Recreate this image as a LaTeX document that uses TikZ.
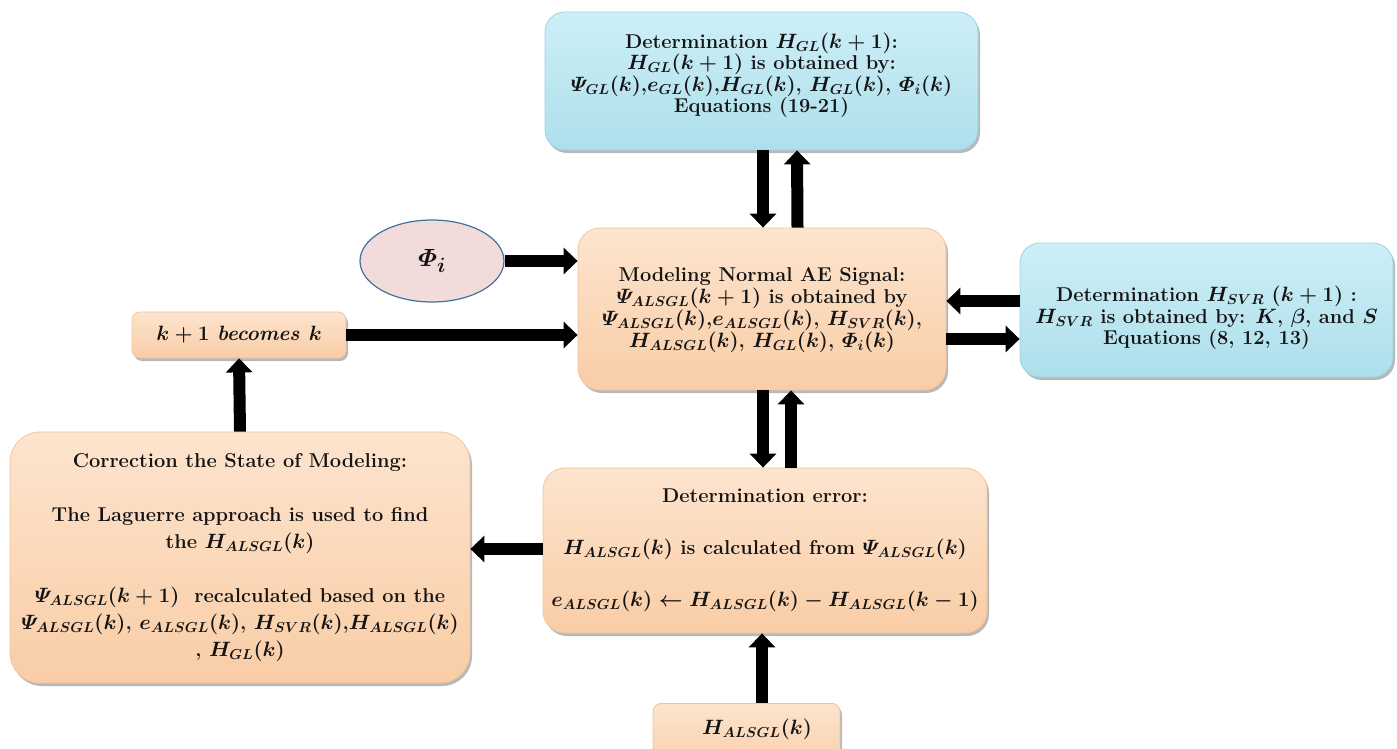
\documentclass[tikz,border=0pt]{standalone}
\usepackage{amsmath}
\usetikzlibrary{arrows.meta,shadows,shapes.geometric}

\definecolor{peachtop}{HTML}{FDE4CE}
\definecolor{peachbot}{HTML}{F9CDA6}
\definecolor{peachline}{HTML}{F2C49C}
\definecolor{skytop}{HTML}{CDEFF7}
\definecolor{skybot}{HTML}{ADDFEB}
\definecolor{skyline}{HTML}{9ED3E2}
\definecolor{ellfill}{HTML}{F2DCDB}
\definecolor{ellline}{HTML}{41719C}
\definecolor{ink}{HTML}{141414}

\tikzset{
  boxbase/.style={rounded corners=#1, draw, line width=0.8pt,
    inner sep=0pt,
    drop shadow={shadow xshift=2pt, shadow yshift=-3pt, opacity=0.28, fill=black}},
  peachbox/.style={boxbase=#1, draw=peachline, top color=peachtop, bottom color=peachbot},
  skybox/.style={boxbase=#1, draw=skyline, top color=skytop, bottom color=skybot},
  txt/.style={align=center, inner sep=0pt, text=ink,
    font=\fontsize{20}{#1}\selectfont\bfseries\boldmath},
  txt/.default=21.5,
  bigarrow/.style={line width=12pt, -{Triangle[width=26pt,length=14pt]}},
}

\begin{document}
\begin{tikzpicture}[x=1pt,y=-1pt]
\useasboundingbox (0,0) rectangle (1397,749);

% upper block: graph-Laguerre estimate
\node[skybox=20pt, minimum width=433pt, minimum height=138pt] (gl) at (761.5,81) {};
\node[txt] (gltext) at (761.5,75)
  {Determination $H_{GL}(k+1)$:\\
   $H_{GL}(k+1)$ is obtained by:\\
   $\varPsi_{GL}(k)$,$e_{GL}(k)$,$H_{GL}(k)$, $H_{GL}(k)$, $\varPhi_i(k)$\\
   Equations (19-21)};

% central modelling block
\node[peachbox=22pt, minimum width=368pt, minimum height=162pt] (model) at (762,309) {};
\node[txt=22] (modeltext) at (762,310)
  {Modeling Normal AE Signal:\\
   $\varPsi_{ALSGL}(k+1)$ is obtained by\\
   $\varPsi_{ALSGL}(k)$,$e_{ALSGL}(k)$, $H_{SVR}(k)$,\\
   $H_{ALSGL}(k)$, $H_{GL}(k)$, $\varPhi_i(k)$};

% SVR block on the right
\node[skybox=20pt, minimum width=373pt, minimum height=134pt] (svr) at (1206.5,310) {};
\node[txt] (svrtext) at (1206.5,318)
  {Determination $H_{SVR}$ $(k+1)$ :\\
   $H_{SVR}$ is obtained by: $K$, $\beta$, and $S$\\
   Equations (8, 12, 13)};

% input phi
\node[ellipse, draw=ellline, line width=1.2pt, fill=ellfill,
      minimum width=144pt, minimum height=82pt, inner sep=0pt, text=ink,
      font=\fontsize{28}{30}\selectfont\bfseries\boldmath] (phi) at (432,261)
  {$\varPhi_i$};

% time step update
\node[peachbox=8pt, minimum width=214pt, minimum height=46pt, txt] (step) at (239,335)
  {$k+1\ \mathit{becomes}\ k$};

% correction block
\node[peachbox=30pt, minimum width=460pt, minimum height=251pt] (corr) at (240,557.5) {};
\node[txt=27] (corrtext) at (240,557.5)
  {Correction the State of Modeling:\\[27pt]
   The Laguerre approach is used to find\\
   the $H_{ALSGL}(k)$\\[27pt]
   $\varPsi_{ALSGL}(k+1)$ \ recalculated based on the\\
   $\varPsi_{ALSGL}(k)$, $e_{ALSGL}(k)$, $H_{SVR}(k)$,$H_{ALSGL}(k)$\\
   , $H_{GL}(k)$};

% error block
\node[peachbox=22pt, minimum width=444pt, minimum height=165pt] (err) at (765,550.5) {};
\node[txt=26] (errtext) at (765,550.5)
  {Determination error:\\[26pt]
   $H_{ALSGL}(k)$ is calculated from $\varPsi_{ALSGL}(k)$\\[26pt]
   $e_{ALSGL}(k) \leftarrow H_{ALSGL}(k) - H_{ALSGL}(k-1)$};

% measured input at the bottom
\node[peachbox=8pt, minimum width=187pt, minimum height=70pt, anchor=north] (hin) at (746.5,703) {};
\node[txt] (hintext) at (757,729) {$H_{ALSGL}(k)$};

% connectors
\draw[bigarrow] ([xshift=1.5pt]gl.south) -- ([xshift=1pt]model.north);
\draw[bigarrow] ([xshift=35.5pt]model.north) -- ([xshift=35.5pt]gl.south);
\draw[bigarrow] (phi.east) -- (model.west |- phi.east);
\draw[bigarrow] (step.east) -- (model.west |- step.east);
\draw[bigarrow] ([yshift=9pt]svr.west) -- ([yshift=9pt]svr.west -| model.east);
\draw[bigarrow] ([yshift=-30pt]model.east) -- ([yshift=-30pt]model.east -| svr.west);
\draw[bigarrow] ([xshift=1pt]model.south) -- ([xshift=1pt]model.south |- err.north);
\draw[bigarrow] ([xshift=29pt]model.south |- err.north) -- ([xshift=29pt]model.south);
\draw[bigarrow] ([yshift=1.5pt]err.west) -- ([yshift=1.5pt]err.west -| corr.east);
\draw[bigarrow] (corr.north) -- (step.south);
\draw[bigarrow] ([xshift=15.5pt]hin.north) -- ([xshift=15.5pt]hin.north |- err.south);
\end{tikzpicture}
\end{document}
